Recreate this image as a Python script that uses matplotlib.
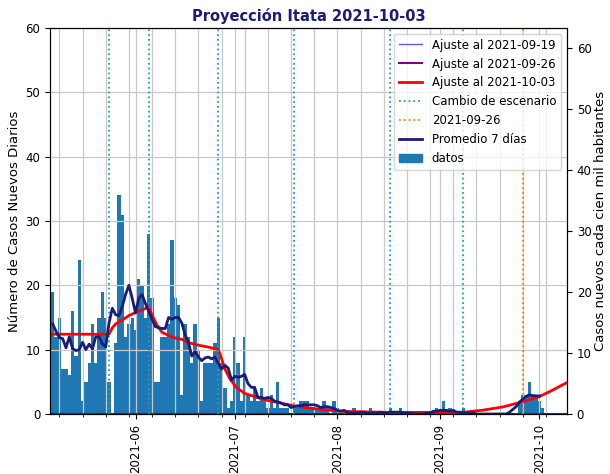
import matplotlib
matplotlib.use("Agg")
import matplotlib.pyplot as plt
import matplotlib.dates as mdates
from matplotlib.lines import Line2D
from matplotlib.patches import Patch
import pandas as pd

# casos diarios desde 2021-05-06
start_date = "2021-05-06"
daily_cases = [
    # mayo 6-31
    17, 19, 12, 15, 7, 7, 6, 16, 9, 24, 2, 5, 8, 14, 8, 15, 19, 15, 5, 0,
    11, 34, 31, 12, 14, 15,
    # junio
    13, 21, 20, 15, 28, 18, 5, 5, 12, 12, 14, 27, 18, 17, 3, 14, 12, 8, 14, 10,
    2, 8, 8, 8, 11, 15, 8, 4, 1, 2,
    # julio
    12, 8, 2, 12, 3, 2, 4, 2, 4, 2, 1, 3, 1, 5, 1, 1, 1, 0, 1, 1,
    2, 2, 2, 1, 1, 1, 1, 2, 1, 0, 2,
    # agosto
    1, 0, 0, 0, 0, 1, 0, 0, 0, 0, 1, 0, 0, 0, 0, 0, 1, 0, 0, 1,
    0, 0, 0, 0, 0, 0, 0, 0, 0, 0, 1,
    # septiembre
    0, 2, 0, 1, 0, 0, 0, 1, 0, 0, 0, 0, 0, 0, 0, 0, 0, 0, 0, 0,
    0, 0, 0, 0, 2, 3, 3, 5, 3, 3,
    # octubre
    2, 1,
]

# ajuste al 2021-10-03
fit_dates = [
    "2021-05-06", "2021-05-24", "2021-05-25", "2021-05-26", "2021-05-28",
    "2021-05-30", "2021-06-02", "2021-06-05", "2021-06-06", "2021-06-07 12:00",
    "2021-06-09", "2021-06-11", "2021-06-13", "2021-06-15", "2021-06-17",
    "2021-06-20", "2021-06-23", "2021-06-26", "2021-06-27", "2021-06-28",
    "2021-06-29 12:00", "2021-07-01 12:00", "2021-07-04", "2021-07-07", "2021-07-10",
    "2021-07-14", "2021-07-19", "2021-07-24", "2021-07-29", "2021-08-03",
    "2021-08-17", "2021-09-08", "2021-09-14", "2021-09-20", "2021-09-26",
    "2021-10-01", "2021-10-05", "2021-10-09 09:00",
]
fit_values = [
    12.4, 12.4, 13.4, 14.0, 14.6,
    15.3, 16.0, 16.6, 15.4, 13.8,
    12.7, 12.2, 11.8, 11.6, 11.1,
    10.7, 10.4, 10.0, 8.6, 7.0,
    5.5, 4.1, 3.2, 2.7, 2.2,
    1.8, 1.25, 0.9, 0.6, 0.4,
    0.25, 0.26, 0.6, 1.1, 1.9,
    2.7, 3.7, 4.9,
]

# ajustes anteriores (quedan en cero)
old_fit_dates = ["2021-05-06", "2021-10-09 09:00"]
fit_0919 = [0.0, 0.0]
fit_0926 = [0.0, 0.0]

scenario_changes = ["2021-05-24", "2021-06-05", "2021-06-26",
                    "2021-07-19", "2021-08-17", "2021-09-08"]
report_date = "2021-09-26"

xlim = ("2021-05-06 04:00", "2021-10-09 09:00")
per100k_top = 63.2


def to_dt(values):
    return pd.to_datetime(values, format="ISO8601")


dates = pd.date_range(start_date, periods=len(daily_cases), freq="D")
cases = pd.Series(daily_cases, index=dates, dtype=float)
avg7 = cases.rolling(7, center=True, min_periods=5).mean()

navy = "#1b1b78"
grid_kw = dict(color="#c8c8c8", linewidth=0.9)

fig = plt.figure(figsize=(6.1, 4.74), dpi=100)
ax = fig.add_axes([50 / 610, 60 / 474, 517 / 610, 386 / 474])

ax.plot(to_dt(old_fit_dates), fit_0919, color="#5a5ae6", linewidth=1.0)
ax.plot(to_dt(old_fit_dates), fit_0926, color="purple", linewidth=1.5)
ax.plot(to_dt(fit_dates), fit_values, color="red", linewidth=2)
for d in scenario_changes:
    ax.axvline(pd.Timestamp(d), color="#17a5b5", linestyle=":", linewidth=1.3)
ax.axvline(pd.Timestamp(report_date), color="tab:orange", linestyle=":", linewidth=1.3)
ax.plot(avg7.index, avg7.values, color=navy, linewidth=2)
ax.bar(dates, cases.values, width=1.0, color="tab:blue", linewidth=0)

ax.set_xlim(pd.Timestamp(xlim[0]), pd.Timestamp(xlim[1]))
ax.set_ylim(0, 60)
ax.set_yticks(range(0, 61, 10))
ax.xaxis.set_major_locator(mdates.MonthLocator())
ax.xaxis.set_major_formatter(mdates.DateFormatter("%Y-%m"))
ax.xaxis.set_minor_locator(mdates.WeekdayLocator(byweekday=mdates.SU))
ax.tick_params(axis="x", which="major", labelrotation=90, labelsize=8.5)
ax.tick_params(axis="y", labelsize=8.5)
ax.grid(True, which="both", axis="x", **grid_kw)
ax.grid(True, which="major", axis="y", **grid_kw)
ax.set_ylabel("Número de Casos Nuevos Diarios", fontsize=9.5, labelpad=3)
ax.set_title("Proyección Itata 2021-10-03", fontsize=10.5, fontweight="bold",
             color=navy, pad=5)

ax2 = ax.twinx()
ax2.set_ylim(0, per100k_top)
ax2.set_yticks(range(0, 61, 10))
ax2.tick_params(axis="y", labelsize=8.5)
ax2.set_ylabel("Casos nuevos cada cien mil habitantes", fontsize=9.5, labelpad=2)

handles = [
    Line2D([], [], color="#5a5ae6", linewidth=1.0),
    Line2D([], [], color="purple", linewidth=1.5),
    Line2D([], [], color="red", linewidth=2),
    Line2D([], [], color="#17a5b5", linestyle=":", linewidth=1.3),
    Line2D([], [], color="tab:orange", linestyle=":", linewidth=1.3),
    Line2D([], [], color=navy, linewidth=2),
    Patch(color="tab:blue"),
]
labels = [
    "Ajuste al 2021-09-19",
    "Ajuste al 2021-09-26",
    "Ajuste al 2021-10-03",
    "Cambio de escenario",
    "2021-09-26",
    "Promedio 7 días",
    "datos",
]
leg = ax2.legend(handles, labels, loc="upper right", fontsize=8.5)

fig.savefig("out.png", dpi=100)
